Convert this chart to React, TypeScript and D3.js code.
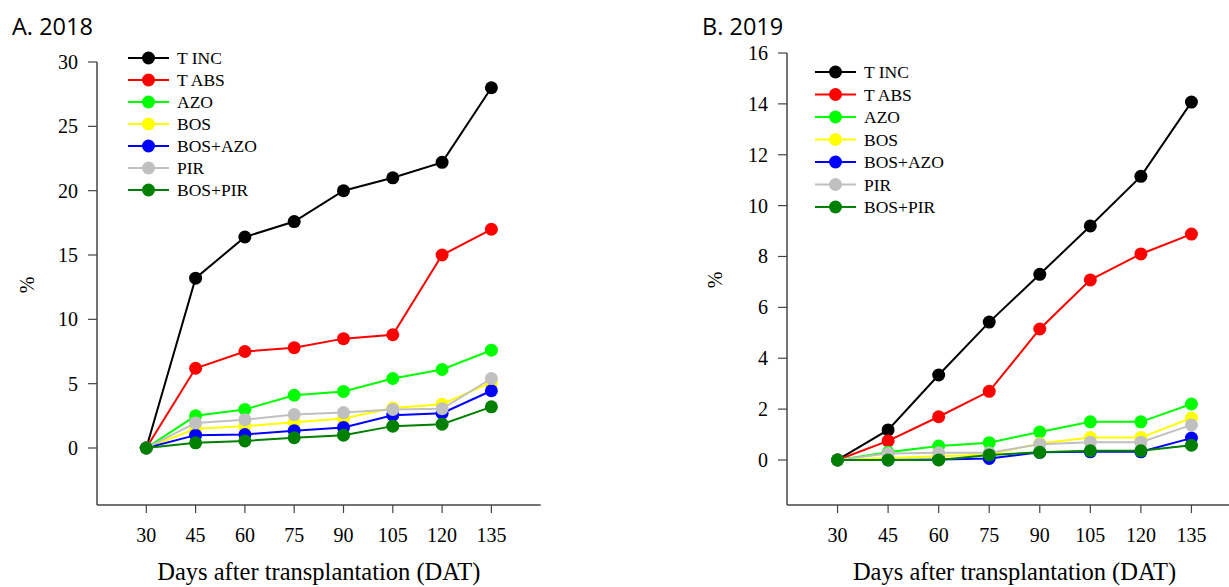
import React from 'react';
import * as d3 from 'd3';

// days after transplantation
const days = [30, 45, 60, 75, 90, 105, 120, 135];

const seriesNames = ['T INC', 'T ABS', 'AZO', 'BOS', 'BOS+AZO', 'PIR', 'BOS+PIR'];
const seriesColors = ['#000000', '#ff0000', '#00ff00', '#ffff00', '#0000ff', '#c0c0c0', '#008000'];

// A. 2018
const tInc2018 = [0, 13.2, 16.4, 17.6, 20.0, 21.0, 22.2, 28.0];
const tAbs2018 = [0, 6.2, 7.5, 7.8, 8.5, 8.8, 15.0, 17.0];
const azo2018 = [0, 2.5, 3.0, 4.1, 4.4, 5.4, 6.1, 7.6];
const bos2018 = [0, 1.5, 1.7, 2.0, 2.3, 3.1, 3.4, 5.1];
const bosAzo2018 = [0, 1.0, 1.05, 1.35, 1.6, 2.55, 2.7, 4.45];
const pir2018 = [0, 1.95, 2.2, 2.6, 2.75, 3.0, 3.05, 5.4];
const bosPir2018 = [0, 0.4, 0.55, 0.8, 1.0, 1.7, 1.85, 3.2];

// B. 2019
const tInc2019 = [0, 1.18, 3.34, 5.42, 7.3, 9.2, 11.15, 14.07];
const tAbs2019 = [0, 0.75, 1.7, 2.7, 5.15, 7.08, 8.1, 8.88];
const azo2019 = [0, 0.3, 0.55, 0.68, 1.1, 1.5, 1.5, 2.2];
const bos2019 = [0, 0.08, 0.15, 0.22, 0.65, 0.88, 0.88, 1.65];
const bosAzo2019 = [0, 0.0, 0.02, 0.06, 0.3, 0.32, 0.32, 0.86];
const pir2019 = [0, 0.25, 0.28, 0.28, 0.62, 0.7, 0.7, 1.38];
const bosPir2019 = [0, 0.0, 0.0, 0.2, 0.3, 0.36, 0.36, 0.58];

const ticks2018 = [0, 5, 10, 15, 20, 25, 30];
const ticks2019 = [0, 2, 4, 6, 8, 10, 12, 14, 16];

const serif = '"Liberation Serif", "Times New Roman", serif';
const axisColor = '#444';

type PanelProps = {
  title: string;
  titleX: number;
  xRange: [number, number];
  yRange: [number, number];
  yDomain: [number, number];
  yTicks: number[];
  series: number[][];
  legendX: number;
  legendY: number;
  legendStep: number;
  yLabelX: number;
  yLabelY: number;
};

const Panel = (p: PanelProps) => {
  const x = d3.scaleLinear().domain([15, 150]).range(p.xRange);
  const y = d3.scaleLinear().domain(p.yDomain).range(p.yRange);
  const line = d3.line<number>().x((_, i) => x(days[i])).y(d => y(d));
  const x0 = p.xRange[0];
  const yBase = p.yRange[0];
  const yTop = y(p.yTicks[p.yTicks.length - 1]);
  const midX = (x(30) + x(135)) / 2;

  return (
    <g>
      <text x={p.titleX} y={35} fontFamily='"Open Sans", sans-serif' fontSize={23.5}>{p.title}</text>

      {/* axes */}
      <line x1={x0} x2={x0} y1={yTop} y2={yBase} stroke={axisColor} strokeWidth={1.5} />
      <line x1={x0} x2={p.xRange[1]} y1={yBase} y2={yBase} stroke={axisColor} strokeWidth={1.5} />
      {p.yTicks.map(t => (
        <g key={t}>
          <line x1={x0 - 9} x2={x0} y1={y(t)} y2={y(t)} stroke={axisColor} strokeWidth={1.2} />
          <text x={x0 - 19} y={y(t) + 7} textAnchor="end" fontFamily={serif} fontSize={20}>{t}</text>
        </g>
      ))}
      {days.map(d => (
        <g key={d}>
          <line x1={x(d)} x2={x(d)} y1={yBase} y2={yBase + 8} stroke={axisColor} strokeWidth={1.2} />
          <text x={x(d)} y={542} textAnchor="middle" fontFamily={serif} fontSize={20}>{d}</text>
        </g>
      ))}
      <text x={midX} y={580} textAnchor="middle" fontFamily={serif} fontSize={24.5}>Days after transplantation (DAT)</text>
      <text transform={`translate(${p.yLabelX},${p.yLabelY}) rotate(-90)`} textAnchor="middle" fontFamily={serif} fontSize={20}>%</text>

      {/* series */}
      {p.series.map((s, i) => (
        <g key={seriesNames[i]}>
          <path d={line(s) ?? ''} fill="none" stroke={seriesColors[i]} strokeWidth={2} />
          {s.map((v, j) => (
            <circle key={j} cx={x(days[j])} cy={y(v)} r={6.5} fill={seriesColors[i]} />
          ))}
        </g>
      ))}

      {/* legend */}
      {seriesNames.map((n, i) => {
        const ly = p.legendY + i * p.legendStep;
        return (
          <g key={n}>
            <line x1={p.legendX} x2={p.legendX + 41} y1={ly} y2={ly} stroke={seriesColors[i]} strokeWidth={2} />
            <circle cx={p.legendX + 20.5} cy={ly} r={6.5} fill={seriesColors[i]} />
            <text x={p.legendX + 49} y={ly + 6} fontFamily={serif} fontSize={17.5}>{n}</text>
          </g>
        );
      })}
    </g>
  );
};

export default function App() {
  return (
    <svg width={1229} height={587} style={{ position: 'absolute', left: 0, top: 0, background: '#fff' }}>
      <Panel
        title="A. 2018"
        titleX={12}
        xRange={[97, 540.7]}
        yRange={[505, 62]}
        yDomain={[-4.43, 30]}
        yTicks={ticks2018}
        series={[tInc2018, tAbs2018, azo2018, bos2018, bosAzo2018, pir2018, bosPir2018]}
        legendX={128}
        legendY={58}
        legendStep={22}
        yLabelX={34}
        yLabelY={285}
      />
      <Panel
        title="B. 2019"
        titleX={702}
        xRange={[787, 1242]}
        yRange={[505, 53]}
        yDomain={[-1.77, 16]}
        yTicks={ticks2019}
        series={[tInc2019, tAbs2019, azo2019, bos2019, bosAzo2019, pir2019, bosPir2019]}
        legendX={815}
        legendY={72}
        legendStep={22.5}
        yLabelX={722}
        yLabelY={280}
      />
    </svg>
  );
}
